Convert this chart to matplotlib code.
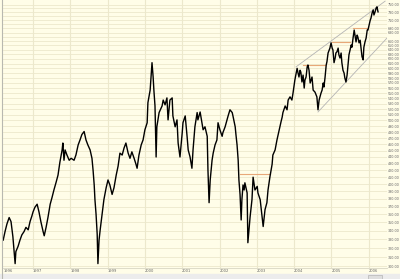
import matplotlib
matplotlib.use("Agg")
import matplotlib.pyplot as plt
import matplotlib.ticker as mticker

# index level: decimal year, close
years = [
    1996.20, 1996.25, 1996.30, 1996.36, 1996.41, 1996.46, 1996.52, 1996.54, 1996.60, 1996.65,
    1996.70, 1996.76, 1996.81, 1996.87, 1996.92, 1996.97,
    1997.00, 1997.05, 1997.11, 1997.16, 1997.21, 1997.27, 1997.30, 1997.35, 1997.40, 1997.46,
    1997.51, 1997.56, 1997.62, 1997.67, 1997.72, 1997.78, 1997.80, 1997.83, 1997.86, 1997.91,
    1997.97, 1998.02,
    1998.10, 1998.15, 1998.21, 1998.26, 1998.31, 1998.37, 1998.42, 1998.47, 1998.53, 1998.58,
    1998.61, 1998.64, 1998.66, 1998.69, 1998.72, 1998.74, 1998.77, 1998.80, 1998.85, 1998.90,
    1998.96,
    1999.01, 1999.06, 1999.12, 1999.17, 1999.23, 1999.28, 1999.33, 1999.39, 1999.44, 1999.49,
    1999.55, 1999.60, 1999.65, 1999.71, 1999.76, 1999.79, 1999.84, 1999.90, 1999.95, 2000.00,
    2000.06, 2000.08, 2000.14, 2000.19, 2000.22, 2000.24, 2000.27, 2000.30, 2000.32, 2000.38,
    2000.46, 2000.49, 2000.54, 2000.59, 2000.62, 2000.67, 2000.73, 2000.75, 2000.81, 2000.86,
    2000.89, 2000.94,
    2001.00, 2001.02, 2001.08, 2001.13, 2001.16, 2001.21, 2001.26, 2001.29, 2001.34, 2001.40,
    2001.42, 2001.48, 2001.53, 2001.56, 2001.61, 2001.67, 2001.69, 2001.72, 2001.75, 2001.80,
    2001.83, 2001.88, 2001.93, 2001.96, 2002.01,
    2002.07, 2002.09, 2002.15, 2002.20, 2002.23, 2002.28, 2002.34, 2002.36, 2002.42, 2002.44,
    2002.47, 2002.50, 2002.52, 2002.55, 2002.58, 2002.60, 2002.63, 2002.66, 2002.68, 2002.74,
    2002.76, 2002.82, 2002.87, 2002.90, 2002.95,
    2003.01, 2003.03, 2003.09, 2003.14, 2003.17, 2003.22, 2003.27, 2003.30, 2003.35, 2003.41,
    2003.43, 2003.49, 2003.54, 2003.60, 2003.65, 2003.68, 2003.70, 2003.76, 2003.81, 2003.84,
    2003.89, 2003.94, 2003.97, 2004.02,
    2004.08, 2004.10, 2004.13, 2004.16, 2004.18, 2004.21, 2004.24, 2004.27, 2004.29, 2004.32,
    2004.35, 2004.37, 2004.40, 2004.43, 2004.48, 2004.51, 2004.56, 2004.61, 2004.64, 2004.67,
    2004.72, 2004.75, 2004.78, 2004.80, 2004.83, 2004.86, 2004.88, 2004.91, 2004.96, 2004.99,
    2005.02,
    2005.04, 2005.07, 2005.10, 2005.12, 2005.15, 2005.18, 2005.20, 2005.23, 2005.26, 2005.28,
    2005.31, 2005.34, 2005.36, 2005.39, 2005.42, 2005.45, 2005.47, 2005.50, 2005.53, 2005.55,
    2005.58, 2005.61, 2005.63, 2005.66, 2005.69, 2005.71, 2005.74, 2005.77, 2005.79, 2005.82,
    2005.85, 2005.87, 2005.90, 2005.93, 2005.96, 2005.98, 2006.01,
    2006.04, 2006.06, 2006.09, 2006.12, 2006.14, 2006.17, 2006.20, 2006.22, 2006.25,
]
closes = [
    329, 339, 348, 356, 351, 333, 303, 316, 322, 329,
    335, 339, 344, 341, 351, 358,
    363, 369, 373, 363, 351, 339, 334, 344, 356, 373,
    382, 392, 403, 413, 432, 451, 462, 435, 451, 443,
    435, 438,
    435, 443, 459, 467, 476, 481, 467, 459, 451, 438,
    420, 399, 379, 360, 336, 303, 329, 341, 360, 379,
    395,
    406, 399, 386, 395, 413, 426, 446, 443, 454, 462,
    446, 438, 448, 438, 429, 423, 443, 459, 467, 484,
    496, 532, 556, 612, 582, 556, 526, 440, 489, 514,
    526, 537, 528, 541, 501, 537, 541, 508, 489, 501,
    462, 440,
    479, 496, 508, 473, 451, 440, 423, 451, 489, 514,
    501, 515, 496, 484, 489, 473, 420, 375, 406, 435,
    446, 459, 467, 496, 484,
    473, 479, 489, 501, 508, 519, 514, 508, 489, 476,
    459, 435, 406, 386, 353, 379, 399, 392, 402, 388,
    326, 357, 379, 410, 392,
    397, 388, 379, 357, 345, 366, 375, 392, 410, 429,
    443, 451, 467, 484, 498, 506, 514, 526, 519, 537,
    543, 537, 550, 576,
    600, 592, 582, 596, 592, 572, 586, 560, 576, 582,
    603, 607, 596, 570, 582, 556, 552, 543, 519, 537,
    550, 556, 570, 562, 582, 607, 614, 633, 644, 656,
    644,
    640, 612, 622, 633, 636, 644, 629, 622, 633, 612,
    596, 590, 580, 572, 586, 612, 629, 640, 651, 646,
    667, 686, 674, 658, 674, 669, 656, 662, 646, 625,
    618, 646, 658, 667, 686, 686, 698,
    710, 715, 728, 736, 723, 731, 741, 744, 731,
]

# horizontal resistance marks
mark_start = [2002.55, 2004.24, 2005.02, 2005.58]
mark_end = [2003.35, 2004.83, 2005.50, 2005.96]
mark_level = [415, 607, 658, 692]

# rising channel
upper_years = [2004.05, 2006.44]
upper_levels = [603, 759]
lower_years = [2004.64, 2006.49]
lower_levels = [515, 667]

year_labels = ["1996", "1997", "1998", "1999", "2000", "2001",
               "2002", "2003", "2004", "2005", "2006"]
price_levels = list(range(300, 760, 10))
hidden_labels = [670, 700, 720, 740]

bg = "#fffde8"
grid = "#ece8cc"

fig = plt.figure(figsize=(4.0, 2.79), dpi=100, facecolor=bg)
ax = fig.add_axes([3 / 400, 11 / 279, 384 / 400, 268 / 279])
ax.set_facecolor(bg)

ax.set_yscale("log")
ax.set_xlim(1996.195, 2006.49)
ax.set_ylim(298.4, 762)

for lv in price_levels:
    ax.axhline(lv, color=grid, lw=0.6, zorder=0)
for yr in range(1997, 2007):
    ax.axvline(yr, color=grid, lw=0.8, zorder=0)

ax.plot(years, closes, color="black", lw=1.0, zorder=3)

for s, e, lv in zip(mark_start, mark_end, mark_level):
    ax.plot([s, e], [lv, lv], color="#e8a878", lw=0.8, zorder=2)

ax.plot(upper_years, upper_levels, color="#b4b4b4", lw=0.6, zorder=2)
ax.plot(lower_years, lower_levels, color="#b4b4b4", lw=0.6, zorder=2)

ax.yaxis.set_major_locator(mticker.FixedLocator(price_levels))
ax.yaxis.set_minor_locator(mticker.NullLocator())
ax.yaxis.set_major_formatter(mticker.FuncFormatter(
    lambda v, p: "" if round(v) in hidden_labels else "%.2f" % v))
ax.yaxis.tick_right()
ax.tick_params(axis="y", length=0, pad=0.3, labelsize=2.4, labelcolor="#666666")

xt = [1996.2] + list(range(1997, 2007))
ax.set_xticks(xt)
ax.set_xticklabels(year_labels)
ax.tick_params(axis="x", length=0, pad=1, labelsize=2.6, labelcolor="#666666")
for lab in ax.get_xticklabels():
    lab.set_horizontalalignment("left")

for sp in ax.spines.values():
    sp.set_visible(False)
ax.spines["bottom"].set_visible(True)
ax.spines["bottom"].set_color("#d8d6c4")
ax.spines["bottom"].set_linewidth(0.6)

# left border and scroll strip
fig.add_artist(plt.Line2D([1.5 / 400, 1.5 / 400], [0, 1], color="#b8b8b0", lw=0.8))
fig.add_artist(plt.Rectangle((0, 0), 1, 5 / 279, color="#ececec", zorder=0))
fig.add_artist(plt.Rectangle((368 / 400, 0.5 / 279), 14 / 400, 4 / 279,
                             facecolor="#dedede", edgecolor="#aaaaaa", lw=0.4))

fig.savefig("out.png", dpi=100, facecolor=bg)
